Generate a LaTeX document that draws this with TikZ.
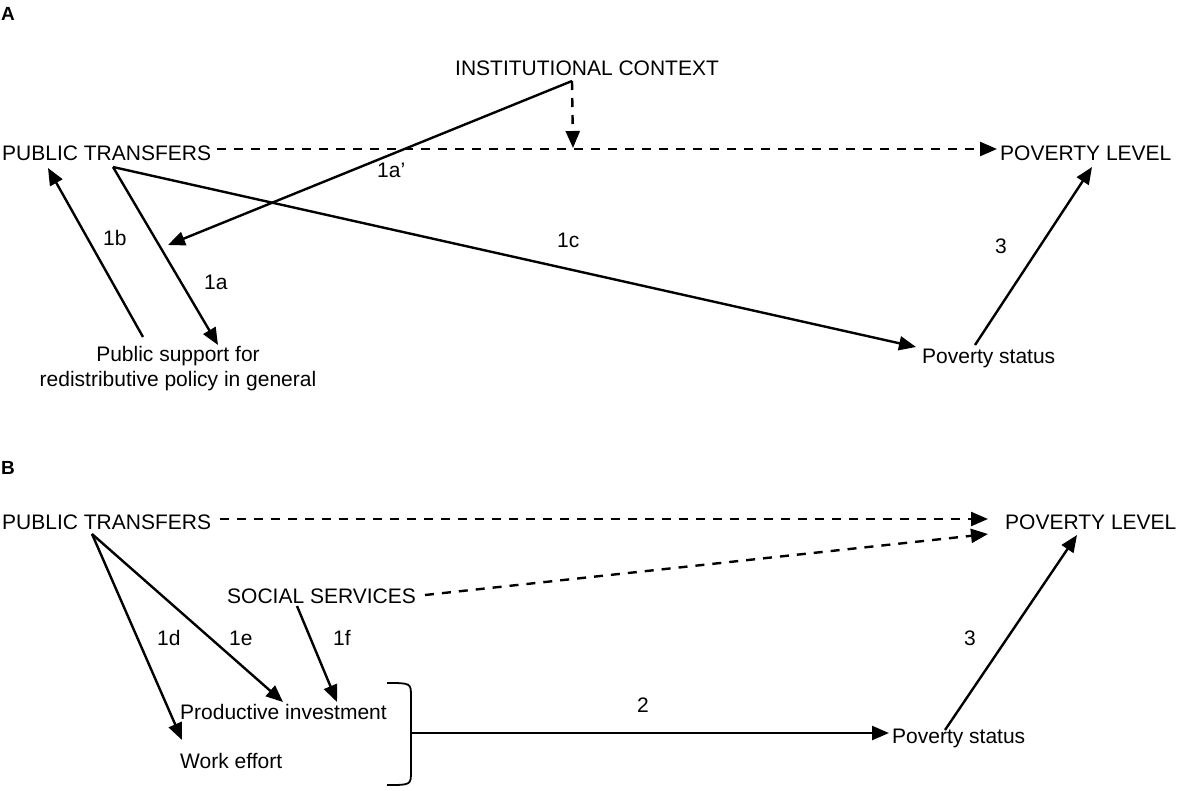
\documentclass[tikz,border=0pt]{standalone}
\usepackage{fontspec}
\setmainfont{Liberation Sans}
\usetikzlibrary{arrows.meta}
\begin{document}
\begin{tikzpicture}[x=1pt,y=-1pt,
  txt/.style={inner sep=0pt, anchor=base west, font=\fontsize{21}{25}\selectfont},
  panel/.style={inner sep=0pt, anchor=base west, font=\fontsize{19}{22}\selectfont\bfseries},
  conn/.style={line width=2.4pt, -{Triangle[length=17pt,width=14pt]}},
  dconn/.style={conn, dash pattern=on 9pt off 8pt}]
\useasboundingbox (0,0) rectangle (1180,790);

% ---------- Panel A ----------
\node[panel] (labA) at (1,20) {A};
\node[txt] (inst) at (455,75) {INSTITUTIONAL CONTEXT};
\node[txt] (ptA) at (2,160) {PUBLIC TRANSFERS};
\node[txt] (plA) at (1000,160) {POVERTY LEVEL};
\node[txt, anchor=north, align=center] (supp) at (178,346) {Public support for\\redistributive policy in general};
\node[txt] (psA) at (922,363) {Poverty status};

\node[txt] (l1ap) at (377,177) {1a’};
\node[txt] (l1b) at (103,245) {1b};
\node[txt] (l1a) at (204,289) {1a};
\node[txt] (l1c) at (557,247) {1c};
\node[txt] (l3A) at (995,253) {3};

\coordinate (ptAout) at (217,149);
\coordinate (ptAsrc) at (113,167);
\coordinate (ptAin) at (48,168);
\coordinate (plAin) at (997,149);
\coordinate (plAin3) at (1092,167);
\coordinate (instOut) at (572,81);
\coordinate (instJ) at (573,148);
\coordinate (instTarget) at (168,245);
\coordinate (suppIn) at (218,345);
\coordinate (suppOut) at (143,337);
\coordinate (psAin) at (916,347);
\coordinate (psAout) at (975,345);

\draw[dconn] (ptAout) -- (plAin);
\draw[dconn] (instOut) -- (instJ);
\draw[conn] (instOut) -- (instTarget);
\draw[conn] (ptAsrc) -- (suppIn);
\draw[conn] (suppOut) -- (ptAin);
\draw[conn] (ptAsrc) -- (psAin);
\draw[conn] (psAout) -- (plAin3);

% ---------- Panel B ----------
\node[panel] (labB) at (1,474) {B};
\node[txt] (ptB) at (2,529) {PUBLIC TRANSFERS};
\node[txt] (plB) at (1005,529) {POVERTY LEVEL};
\node[txt] (ss) at (227,603) {SOCIAL SERVICES};
\node[txt] (prod) at (180,719) {Productive investment};
\node[txt] (work) at (180,768) {Work effort};
\node[txt] (psB) at (892,743) {Poverty status};

\node[txt] (l1d) at (157,645) {1d};
\node[txt] (l1e) at (229,645) {1e};
\node[txt] (l1f) at (333,645) {1f};
\node[txt] (l2) at (637,712) {2};
\node[txt] (l3B) at (964,645) {3};

\coordinate (ptBout) at (220,519);
\coordinate (ptBsrc) at (92,534);
\coordinate (plBin1) at (988,519);
\coordinate (plBin2) at (988,534);
\coordinate (plBin3) at (1077,535);
\coordinate (ssOut) at (425,595);
\coordinate (ssSrc) at (297,606);
\coordinate (workIn) at (182,740);
\coordinate (prodIn1) at (283,702);
\coordinate (prodIn2) at (337,702);
\coordinate (brTop) at (387,683);
\coordinate (brBot) at (387,785);
\coordinate (brMid) at (411,733);
\coordinate (psBin) at (889,733);
\coordinate (psBout) at (945,730);

\draw[dconn] (ptBout) -- (plBin1);
\draw[dconn] (ssOut) -- (plBin2);
\draw[conn] (ptBsrc) -- (workIn);
\draw[conn] (ptBsrc) -- (prodIn1);
\draw[conn] (ssSrc) -- (prodIn2);
\draw[line width=1.8pt] (brTop) .. controls (411,683) .. (411,697) -- (411,771) .. controls (411,785) .. (brBot);
\draw[conn] (brMid) -- (psBin);
\draw[conn] (psBout) -- (plBin3);
\end{tikzpicture}
\end{document}
